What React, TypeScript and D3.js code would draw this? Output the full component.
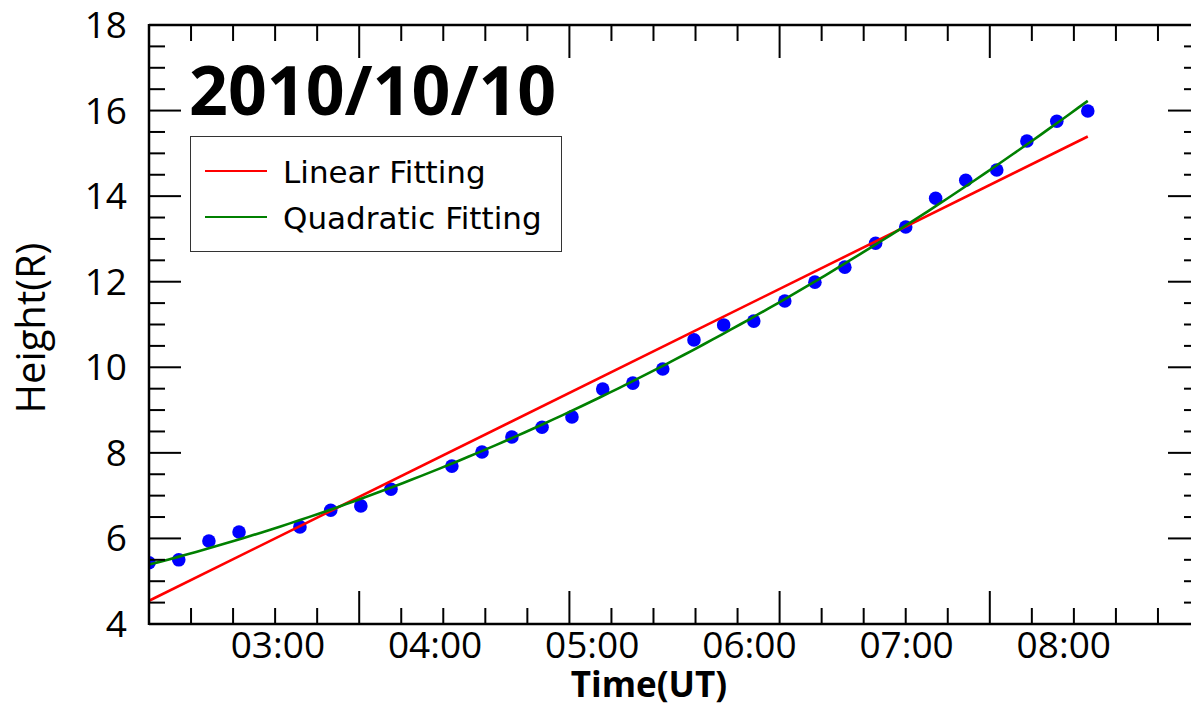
import React, { useEffect, useRef } from "react";
import * as d3 from "d3";

// observation times (UT) and measured heights in solar radii
const obsTimes = [
  "02:10:50", "02:22:10", "02:33:40", "02:45:10", "03:08:25", "03:20:10",
  "03:31:40", "03:43:10", "04:06:25", "04:17:55", "04:29:20", "04:40:50",
  "04:52:15", "05:04:00", "05:15:30", "05:26:55", "05:38:50", "05:50:10",
  "06:01:40", "06:13:30", "06:25:00", "06:36:25", "06:48:10", "06:59:40",
  "07:11:05", "07:22:35", "07:34:25", "07:45:55", "07:57:20", "08:09:10",
];
const heights = [
  5.43, 5.5, 5.94, 6.15, 6.27, 6.66, 6.76, 7.15, 7.69, 8.02, 8.37, 8.6,
  8.84, 9.49, 9.63, 9.96, 10.64, 10.99, 11.08, 11.55, 11.99, 12.34, 12.9,
  13.28, 13.95, 14.37, 14.61, 15.29, 15.75, 15.99,
];
const hourLabels = ["03:00", "04:00", "05:00", "06:00", "07:00", "08:00"];
const yTickValues = [4, 6, 8, 10, 12, 14, 16, 18];
const timeDomain = ["02:10:48", "08:52:00"];
const legendLabels = ["Linear Fitting", "Quadratic Fitting"];
const fitColors = ["#ff0000", "#008000"];

const W = 1191;
const H = 706;
const plot = { left: 149, top: 25, right: 1200, bottom: 624 };

const toDate = (s: string) => {
  const [h, m, sec] = s.split(":").map(Number);
  return new Date(Date.UTC(2010, 9, 10, h, m, sec || 0));
};

// least-squares polynomial fit, returns coefficients c0 + c1 t + c2 t^2 ...
function polyFit(xs: number[], ys: number[], deg: number) {
  const n = deg + 1;
  const A = Array.from({ length: n }, () => new Array(n + 1).fill(0));
  xs.forEach((x, k) => {
    for (let i = 0; i < n; i++) {
      for (let j = 0; j < n; j++) A[i][j] += Math.pow(x, i + j);
      A[i][n] += ys[k] * Math.pow(x, i);
    }
  });
  for (let i = 0; i < n; i++) {
    let p = i;
    for (let r = i + 1; r < n; r++) if (Math.abs(A[r][i]) > Math.abs(A[p][i])) p = r;
    [A[i], A[p]] = [A[p], A[i]];
    for (let r = 0; r < n; r++) {
      if (r === i) continue;
      const f = A[r][i] / A[i][i];
      for (let c = i; c <= n; c++) A[r][c] -= f * A[i][c];
    }
  }
  return A.map((row, i) => row[n] / row[i]);
}

export default function App() {
  const svgRef = useRef<SVGSVGElement>(null);

  useEffect(() => {
    document.body.style.margin = "0";
    const svg = d3.select(svgRef.current);
    svg.selectAll("*").remove();

    const x = d3.scaleUtc().domain(timeDomain.map(toDate)).range([plot.left, plot.right]);
    const y = d3.scaleLinear().domain([4, 18]).range([plot.bottom, plot.top]);

    const data = obsTimes.map((t, i) => ({ t: toDate(t), v: heights[i] }));
    const t0 = data[0].t.getTime();
    const hrs = data.map((d) => (d.t.getTime() - t0) / 3.6e6);

    svg.append("defs").append("clipPath").attr("id", "plotclip")
      .append("rect")
      .attr("x", plot.left).attr("y", plot.top)
      .attr("width", plot.right - plot.left).attr("height", plot.bottom - plot.top);

    const area = svg.append("g").attr("clip-path", "url(#plotclip)");

    // data points
    area.selectAll("circle")
      .data(data)
      .join("circle")
      .attr("cx", (d) => x(d.t))
      .attr("cy", (d) => y(d.v))
      .attr("r", 6.8)
      .attr("fill", "#0000ff");

    // fits
    const lin = polyFit(hrs, heights, 1);
    const quad = polyFit(hrs, heights, 2);
    const evalPoly = (c: number[], h: number) => c.reduce((s, ci, i) => s + ci * Math.pow(h, i), 0);
    const hMax = hrs[hrs.length - 1];
    const samples = d3.range(0, 101).map((i) => (i / 100) * hMax);
    [lin, quad].forEach((c, i) => {
      const line = d3.line<number>()
        .x((h) => x(new Date(t0 + h * 3.6e6)))
        .y((h) => y(evalPoly(c, h)));
      area.append("path")
        .attr("d", line(i === 0 ? [0, hMax] : samples))
        .attr("fill", "none")
        .attr("stroke", fitColors[i])
        .attr("stroke-width", 2.6);
    });

    // frame
    const frame = svg.append("g").attr("stroke", "#000").attr("stroke-width", 2.5);
    frame.append("line").attr("x1", plot.left).attr("x2", plot.left).attr("y1", plot.top - 1).attr("y2", plot.bottom + 1);
    frame.append("line").attr("x1", plot.right).attr("x2", plot.right).attr("y1", plot.top).attr("y2", plot.bottom);
    frame.append("line").attr("x1", plot.left).attr("x2", plot.right).attr("y1", plot.top).attr("y2", plot.top);
    frame.append("line").attr("x1", plot.left).attr("x2", plot.right).attr("y1", plot.bottom).attr("y2", plot.bottom);

    // y ticks (major every 2, minor every 0.5) on left and right
    const yMinor = d3.range(4, 18.01, 0.5);
    const ticks = svg.append("g").attr("stroke", "#000").attr("stroke-width", 2);
    yMinor.forEach((v) => {
      const major = Math.abs(v % 2) < 1e-6;
      const len = major ? 32 : 16;
      ticks.append("line").attr("x1", plot.left).attr("x2", plot.left + len).attr("y1", y(v)).attr("y2", y(v));
      ticks.append("line").attr("x1", plot.right).attr("x2", plot.right - len).attr("y1", y(v)).attr("y2", y(v));
    });

    // x ticks: 25 minor intervals, major every 5th
    const [d0, d1] = x.domain().map((d) => d.getTime());
    d3.range(0, 26).forEach((i) => {
      const px = x(new Date(d0 + ((d1 - d0) * i) / 25));
      const len = i % 5 === 0 ? 33 : 16;
      ticks.append("line").attr("x1", px).attr("x2", px).attr("y1", plot.bottom).attr("y2", plot.bottom - len);
      ticks.append("line").attr("x1", px).attr("x2", px).attr("y1", plot.top).attr("y2", plot.top + len);
    });

    const font = "'Open Sans', 'Noto Sans', sans-serif";

    svg.append("g").selectAll("text")
      .data(yTickValues)
      .join("text")
      .attr("x", 127)
      .attr("y", (v) => y(v) + 13)
      .attr("text-anchor", "end")
      .attr("font-family", font)
      .attr("font-size", 37)
      .text((v) => v);

    svg.append("g").selectAll("text")
      .data(hourLabels)
      .join("text")
      .attr("x", (s) => x(toDate(s)))
      .attr("y", 658)
      .attr("text-anchor", "middle")
      .attr("font-family", font)
      .attr("font-size", 37)
      .text((s) => s);

    svg.append("text")
      .attr("x", 649).attr("y", 697)
      .attr("text-anchor", "middle")
      .attr("font-family", font)
      .attr("font-weight", "bold")
      .attr("font-size", 35)
      .text("Time(UT)");

    svg.append("text")
      .attr("transform", "translate(45,328) rotate(-90)")
      .attr("text-anchor", "middle")
      .attr("font-family", font)
      .attr("font-size", 40)
      .text("Height(R)");

    svg.append("text")
      .attr("x", 189).attr("y", 115)
      .attr("font-family", font)
      .attr("font-weight", "bold")
      .attr("font-size", 68)
      .text("2010/10/10");

    // legend
    const lg = svg.append("g");
    lg.append("rect")
      .attr("x", 190.5).attr("y", 136.5).attr("width", 371).attr("height", 115)
      .attr("fill", "#fff").attr("stroke", "#333").attr("stroke-width", 1);
    legendLabels.forEach((lab, i) => {
      const yy = 171 + i * 46;
      lg.append("line").attr("x1", 205).attr("x2", 267).attr("y1", yy).attr("y2", yy)
        .attr("stroke", fitColors[i]).attr("stroke-width", 1.8);
      lg.append("text").attr("x", 283).attr("y", yy + 12)
        .attr("font-family", "'DejaVu Sans', sans-serif")
        .attr("font-size", 31)
        .text(lab);
    });
  }, []);

  return <svg ref={svgRef} width={W} height={H} style={{ display: "block", background: "#fff" }} />;
}
